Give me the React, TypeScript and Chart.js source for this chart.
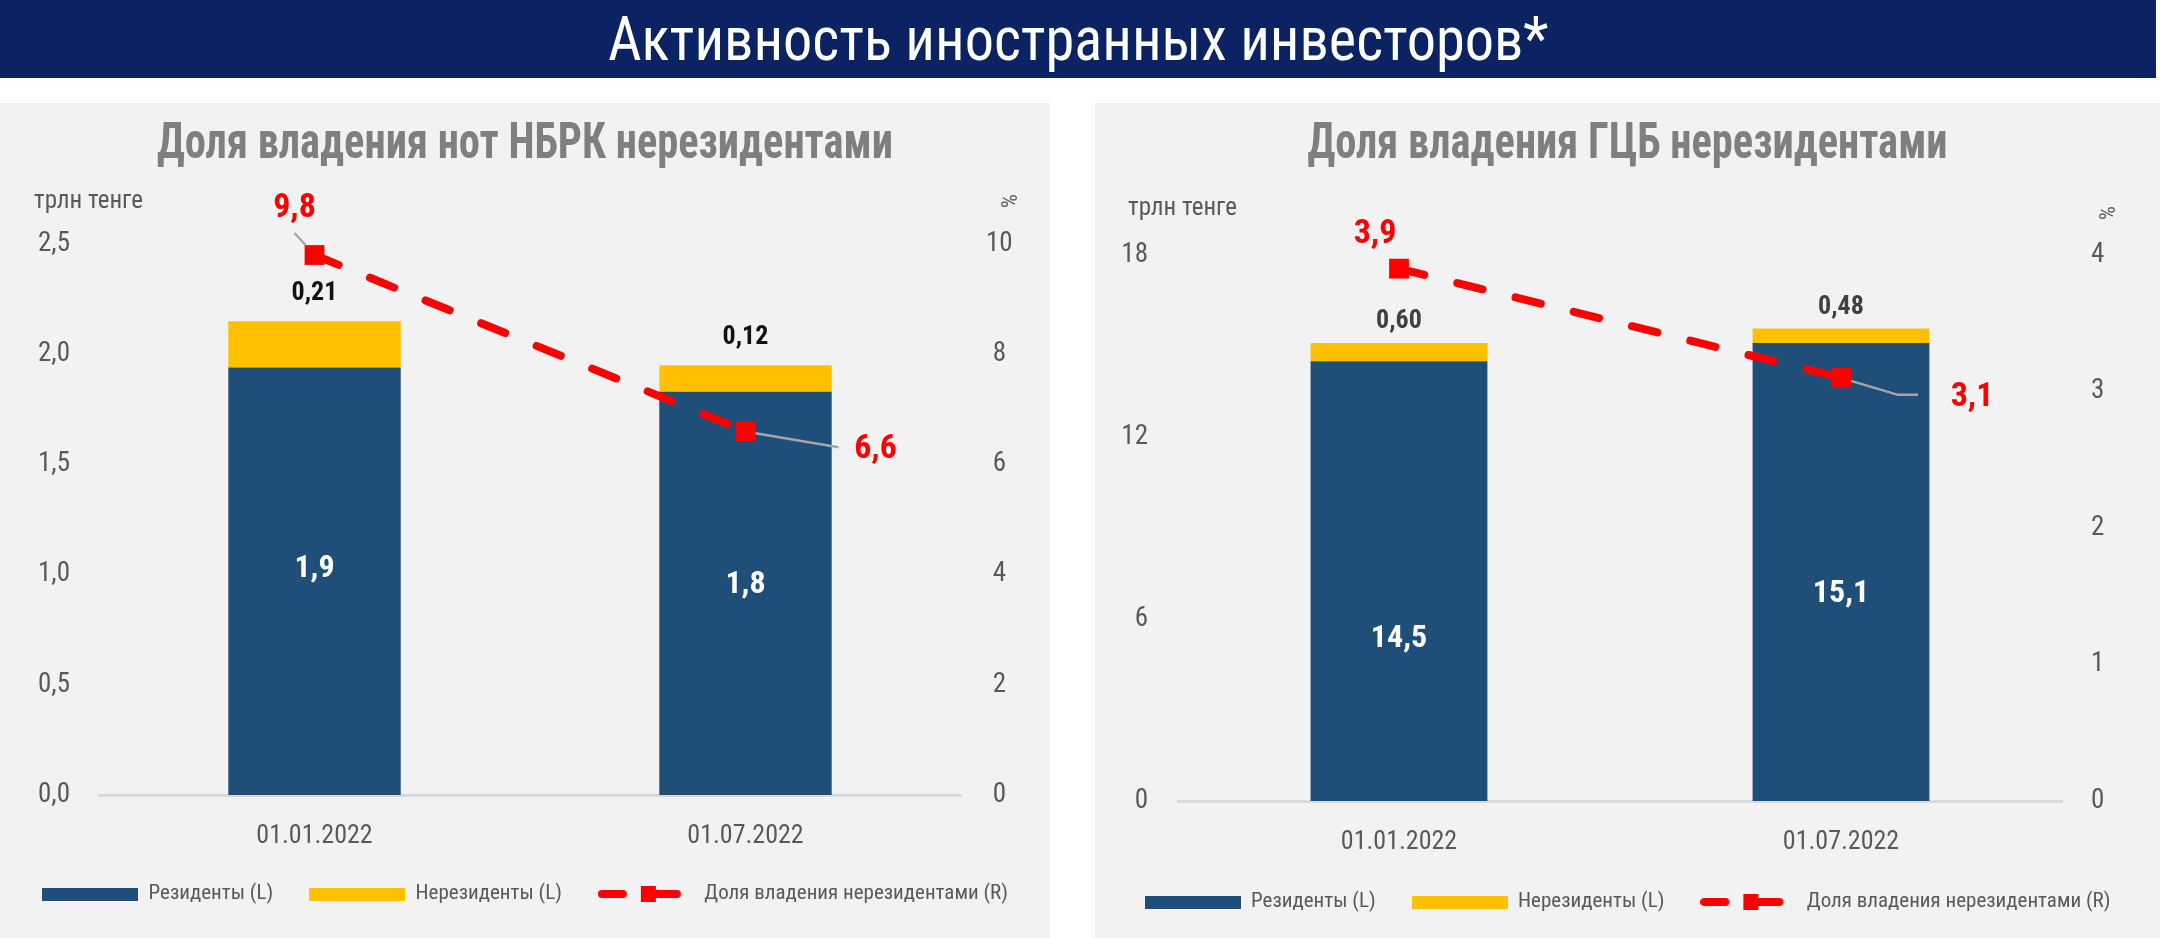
import { useEffect, useRef } from 'react';
import { Chart, registerables } from 'chart.js';
import type { ChartConfiguration, Plugin } from 'chart.js';

Chart.register(...registerables);

const FONT = '"Roboto Condensed", "Liberation Sans Narrow", "DejaVu Sans Condensed", sans-serif';

const BLUE = '#1f4e79';
const YELLOW = '#ffc000';
const RED = '#ff0000';
const TICK = '#595959';

// categories shared by both charts
const dates = ['01.01.2022', '01.07.2022'];
const legendLabels = ['Резиденты (L)', 'Нерезиденты (L)', 'Доля владения нерезидентами (R)'];

// ноты НБРК, трлн тенге / %
const notesResidents = [1.94, 1.83];
const notesNonResidents = [0.21, 0.12];
const notesShare = [9.8, 6.6];
const notesLeftTicks = [0, 0.5, 1.0, 1.5, 2.0, 2.5];
const notesRightTicks = [0, 2, 4, 6, 8, 10];

// ГЦБ, трлн тенге / %
const bondsResidents = [14.5, 15.1];
const bondsNonResidents = [0.6, 0.48];
const bondsShare = [3.9, 3.1];
const bondsLeftTicks = [0, 6, 12, 18];
const bondsRightTicks = [0, 1, 2, 3, 4];

const fmt = (v: number, d: number) => v.toFixed(d).replace('.', ',');

interface ShareLabel {
  dx: number;
  dy: number;
  leader: number[][];
}

interface PanelProps {
  title: string;
  residents: number[];
  nonResidents: number[];
  share: number[];
  leftTicks: number[];
  rightTicks: number[];
  leftDecimals: number;
  left: number;
  width: number;
  padTop: number;
  padBottom: number;
  leftAxisWidth: number;
  rightAxisWidth: number;
  xAxisHeight: number;
  leftTickPad: number;
  rightTickPad: number;
  insideDy: number[];
  topGap: number;
  topColor: string;
  shareLabels: ShareLabel[];
  unitLeft: number;
  unitTop: number;
  pctLeft: number;
  pctTop: number;
}

function barIcon(color: string) {
  const c = document.createElement('canvas');
  c.width = 96;
  c.height = 24;
  const g = c.getContext('2d')!;
  g.fillStyle = color;
  g.fillRect(0, 6, 96, 13);
  return c;
}

function lineIcon() {
  const c = document.createElement('canvas');
  c.width = 96;
  c.height = 24;
  const g = c.getContext('2d')!;
  g.strokeStyle = RED;
  g.lineWidth = 8;
  g.lineCap = 'round';
  g.beginPath();
  g.moveTo(4, 12);
  g.lineTo(25, 12);
  g.moveTo(48, 12);
  g.lineTo(79, 12);
  g.stroke();
  g.fillStyle = RED;
  g.fillRect(43, 4, 15, 16);
  return c;
}

// values on the bars and on the line, plus the leader lines
const labelsPlugin: Plugin<'bar'> = {
  id: 'panelLabels',
  afterDatasetsDraw(chart, _args, opts: any) {
    const ctx = chart.ctx;
    const ds = chart.data.datasets;
    ctx.save();

    ctx.strokeStyle = '#a6a6a6';
    ctx.lineWidth = 2.5;
    chart.getDatasetMeta(2).data.forEach((pt: any, i: number) => {
      const lab: ShareLabel = opts.shareLabels[i];
      if (!lab.leader.length) return;
      ctx.beginPath();
      lab.leader.forEach(([dx, dy], k) => {
        if (k === 0) ctx.moveTo(pt.x + dx, pt.y + dy);
        else ctx.lineTo(pt.x + dx, pt.y + dy);
      });
      ctx.stroke();
    });

    ctx.textAlign = 'center';
    ctx.textBaseline = 'middle';

    ctx.font = `bold 32px ${FONT}`;
    ctx.fillStyle = '#ffffff';
    chart.getDatasetMeta(0).data.forEach((bar: any, i: number) => {
      const y = (bar.y + bar.base) / 2 + opts.insideDy[i];
      ctx.fillText(fmt(ds[0].data[i] as number, 1), bar.x, y);
    });

    ctx.font = `bold 26px ${FONT}`;
    ctx.fillStyle = opts.topColor;
    chart.getDatasetMeta(1).data.forEach((bar: any, i: number) => {
      ctx.fillText(fmt(ds[1].data[i] as number, 2), bar.x, bar.y - opts.topGap);
    });

    ctx.font = `bold 34px ${FONT}`;
    ctx.fillStyle = RED;
    chart.getDatasetMeta(2).data.forEach((pt: any, i: number) => {
      const lab: ShareLabel = opts.shareLabels[i];
      ctx.fillText(fmt(ds[2].data[i] as number, 1), pt.x + lab.dx, pt.y + lab.dy);
    });
    ctx.restore();
  },
};

function ChartPanel(p: PanelProps) {
  const canvasRef = useRef<HTMLCanvasElement>(null);

  useEffect(() => {
    if (!canvasRef.current) return;
    const icons = [barIcon(BLUE), barIcon(YELLOW), lineIcon()];
    const leftMax = p.leftTicks[p.leftTicks.length - 1];
    const rightMax = p.rightTicks[p.rightTicks.length - 1];

    const config: ChartConfiguration<'bar'> = {
      type: 'bar',
      data: {
        labels: dates,
        datasets: [
          {
            label: legendLabels[0],
            data: p.residents,
            backgroundColor: BLUE,
            yAxisID: 'y',
            stack: 'total',
            order: 1,
            barPercentage: 0.4,
            categoryPercentage: 1,
          },
          {
            label: legendLabels[1],
            data: p.nonResidents,
            backgroundColor: YELLOW,
            yAxisID: 'y',
            stack: 'total',
            order: 1,
            barPercentage: 0.4,
            categoryPercentage: 1,
          },
          {
            type: 'line',
            label: legendLabels[2],
            data: p.share,
            yAxisID: 'y1',
            borderColor: RED,
            borderWidth: 8,
            borderDash: [26, 34],
            borderCapStyle: 'round',
            pointStyle: 'rect',
            pointRadius: 14,
            pointBackgroundColor: RED,
            pointBorderWidth: 0,
            fill: false,
            tension: 0,
            order: 0,
          } as any,
        ],
      },
      options: {
        responsive: true,
        maintainAspectRatio: false,
        animation: false,
        layout: { padding: { top: p.padTop, bottom: p.padBottom, left: 0, right: 0 } },
        plugins: {
          tooltip: { enabled: false },
          legend: {
            position: 'bottom',
            labels: {
              usePointStyle: true,
              pointStyleWidth: 96,
              boxHeight: 13,
              padding: 36,
              color: TICK,
              font: { family: FONT, size: 21 },
              generateLabels: () =>
                legendLabels.map((text, i) => ({
                  text,
                  pointStyle: icons[i] as any,
                  fillStyle: RED,
                  strokeStyle: RED,
                  lineWidth: 0,
                  hidden: false,
                  datasetIndex: i,
                  fontColor: TICK,
                })),
            },
          },
          panelLabels: {
            insideDy: p.insideDy,
            topGap: p.topGap,
            topColor: p.topColor,
            shareLabels: p.shareLabels,
          },
        } as any,
        scales: {
          x: {
            stacked: true,
            grid: { display: false, drawTicks: false },
            border: { display: true, color: '#d9d9d9', width: 3 },
            ticks: { color: TICK, font: { family: FONT, size: 26 }, padding: 26 },
            afterFit: (s) => {
              s.height = p.xAxisHeight;
            },
          },
          y: {
            stacked: true,
            position: 'left',
            min: 0,
            max: leftMax,
            grid: { display: false, drawTicks: false },
            border: { display: false },
            afterBuildTicks: (s) => {
              s.ticks = p.leftTicks.map((value) => ({ value }));
            },
            ticks: {
              crossAlign: 'near',
              padding: p.leftTickPad,
              color: TICK,
              font: { family: FONT, size: 27 },
              callback: (v) => fmt(Number(v), p.leftDecimals),
            },
            afterFit: (s) => {
              s.width = p.leftAxisWidth;
            },
          },
          y1: {
            position: 'right',
            min: 0,
            max: rightMax,
            grid: { display: false, drawTicks: false },
            border: { display: false },
            afterBuildTicks: (s) => {
              s.ticks = p.rightTicks.map((value) => ({ value }));
            },
            ticks: {
              crossAlign: 'center',
              padding: p.rightTickPad,
              color: TICK,
              font: { family: FONT, size: 27 },
              callback: (v) => fmt(Number(v), 0),
            },
            afterFit: (s) => {
              s.width = p.rightAxisWidth;
            },
          },
        },
      },
      plugins: [labelsPlugin],
    };

    const chart = new Chart(canvasRef.current, config);
    return () => {
      chart.destroy();
    };
  }, [p]);

  return (
    <div
      style={{
        position: 'absolute',
        left: p.left,
        top: 103,
        width: p.width,
        height: 835,
        background: '#f2f2f2',
      }}
    >
      <div style={{ position: 'absolute', left: 0, top: 0, width: p.width, height: 835 }}>
        <canvas ref={canvasRef}></canvas>
      </div>
      <div
        style={{
          position: 'absolute',
          left: 0,
          top: 10,
          width: p.width,
          height: 56,
          lineHeight: '56px',
          textAlign: 'center',
          color: '#7f7f7f',
          fontWeight: 'bold',
          fontSize: 50,
          fontFamily: FONT,
          whiteSpace: 'nowrap',
          transform: 'scaleX(0.85)',
        }}
      >
        {p.title}
      </div>
      <div
        style={{
          position: 'absolute',
          left: p.unitLeft,
          top: p.unitTop - 15,
          height: 30,
          lineHeight: '30px',
          color: TICK,
          fontSize: 25,
          fontFamily: FONT,
          whiteSpace: 'nowrap',
        }}
      >
        трлн тенге
      </div>
      <div
        style={{
          position: 'absolute',
          left: p.pctLeft - 15,
          top: p.pctTop - 15,
          width: 30,
          height: 30,
          lineHeight: '30px',
          textAlign: 'center',
          color: TICK,
          fontSize: 22,
          fontFamily: FONT,
          transform: 'rotate(90deg)',
        }}
      >
        %
      </div>
    </div>
  );
}

const notesPanel: PanelProps = {
  title: 'Доля владения нот НБРК нерезидентами',
  residents: notesResidents,
  nonResidents: notesNonResidents,
  share: notesShare,
  leftTicks: notesLeftTicks,
  rightTicks: notesRightTicks,
  leftDecimals: 1,
  left: 0,
  width: 1050,
  padTop: 141,
  padBottom: 23.5,
  leftAxisWidth: 99,
  rightAxisWidth: 89,
  xAxisHeight: 52.5,
  leftTickPad: 29,
  rightTickPad: 25,
  insideDy: [-12, -8],
  topGap: 28,
  topColor: '#111111',
  shareLabels: [
    { dx: -20, dy: -47, leader: [[-20, -22], [-9, -10]] },
    { dx: 130, dy: 18, leader: [[10, 2], [93, 16]] },
  ],
  unitLeft: 34,
  unitTop: 97,
  pctLeft: 1008,
  pctTop: 98,
};

const bondsPanel: PanelProps = {
  title: 'Доля владения ГЦБ нерезидентами',
  residents: bondsResidents,
  nonResidents: bondsNonResidents,
  share: bondsShare,
  leftTicks: bondsLeftTicks,
  rightTicks: bondsRightTicks,
  leftDecimals: 0,
  left: 1095,
  width: 1065,
  padTop: 152,
  padBottom: 15.5,
  leftAxisWidth: 83,
  rightAxisWidth: 98,
  xAxisHeight: 54.5,
  leftTickPad: 30,
  rightTickPad: 29,
  insideDy: [58, 22],
  topGap: 21,
  topColor: '#404040',
  shareLabels: [
    { dx: -24, dy: -34, leader: [] },
    { dx: 131, dy: 20, leader: [[10, 3], [57, 17], [77, 17]] },
  ],
  unitLeft: 33,
  unitTop: 104,
  pctLeft: 1011,
  pctTop: 110,
};

export default function App() {
  return (
    <div
      style={{
        position: 'fixed',
        left: 0,
        top: 0,
        width: 2160,
        height: 938,
        background: '#ffffff',
        overflow: 'hidden',
        fontFamily: FONT,
      }}
    >
      <div
        style={{
          position: 'absolute',
          left: 0,
          top: 0,
          width: 2156,
          height: 78,
          background: '#0b2263',
          color: '#ffffff',
          fontSize: 62,
          lineHeight: '78px',
          textAlign: 'center',
          whiteSpace: 'nowrap',
        }}
      >
        <span style={{ display: 'inline-block', transform: 'scaleX(0.94)' }}>
          Активность иностранных инвесторов*
        </span>
      </div>
      <ChartPanel {...notesPanel} />
      <ChartPanel {...bondsPanel} />
    </div>
  );
}
